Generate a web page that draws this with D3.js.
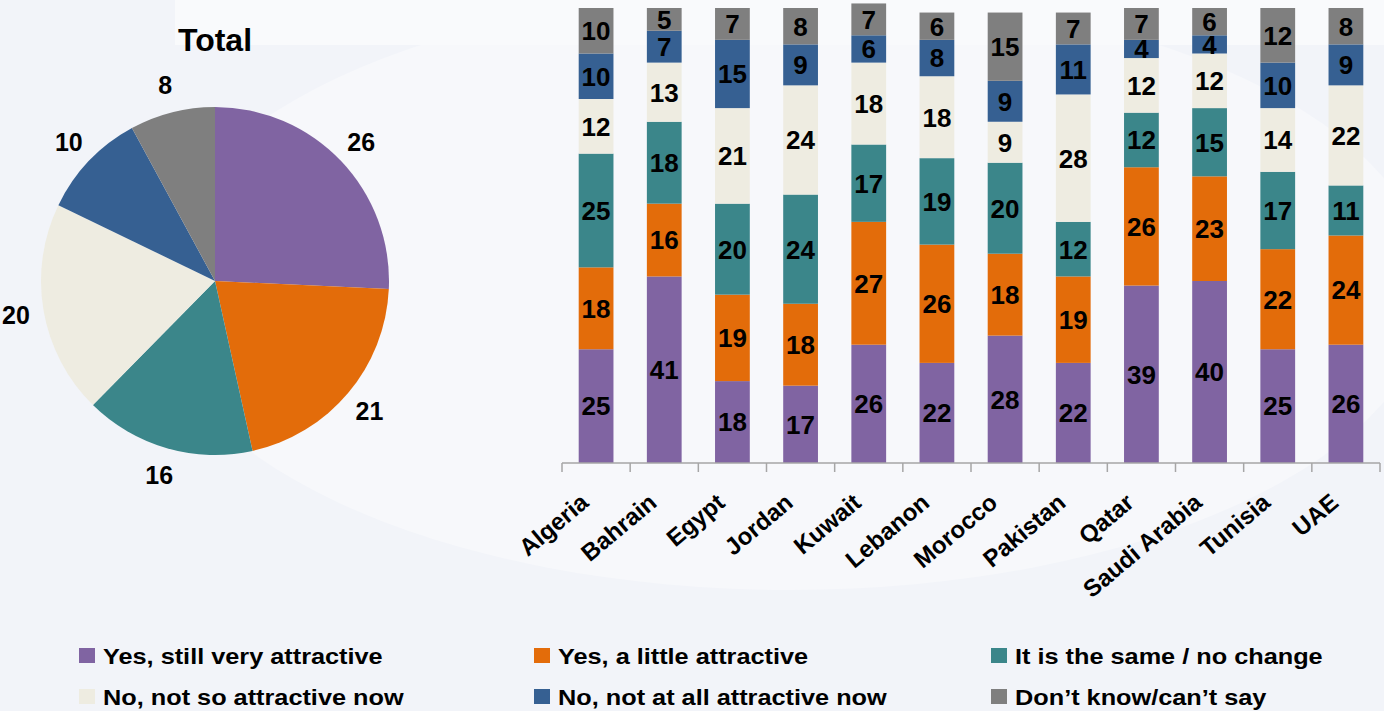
<!DOCTYPE html>
<html>
<head>
<meta charset="utf-8">
<script src="https://cdn.jsdelivr.net/npm/d3@7"></script>
<style>
  html, body { margin: 0; padding: 0; background: #f3f5f9; }
  svg { display: block; font-family: "Liberation Sans", Arial, sans-serif; font-weight: bold; }
</style>
</head>
<body>
<svg id="chart" width="1384" height="711"></svg>
<script>
// ---------- data ----------
const countries = ["Algeria","Bahrain","Egypt","Jordan","Kuwait","Lebanon","Morocco","Pakistan","Qatar","Saudi Arabia","Tunisia","UAE"];
const seriesNames = ["Yes, still very attractive","Yes, a little attractive","It is the same / no change","No, not so attractive now","No, not at all attractive now","Don\u2019t know/can\u2019t say"];
const veryAttractive   = [25,41,18,17,26,22,28,22,39,40,25,26];
const littleAttractive = [18,16,19,18,27,26,18,19,26,23,22,24];
const sameNoChange     = [25,18,20,24,17,19,20,12,12,15,17,11];
const notSoAttractive  = [12,13,21,24,18,18, 9,28,12,12,14,22];
const notAtAll         = [10, 7,15, 9, 6, 8, 9,11, 4, 4,10, 9];
const dontKnow         = [10, 5, 7, 8, 7, 6,15, 7, 7, 6,12, 8];
const totalValues      = [26,21,16,20,10,8];
const colors = ["#8064a2","#e36c0a","#3b868a","#eeece1","#366092","#7f7f7f"];

const seriesValues = [veryAttractive, littleAttractive, sameNoChange, notSoAttractive, notAtAll, dontKnow];

const svg = d3.select("#chart");

// ---------- background ----------
svg.append("rect").attr("width",1384).attr("height",711).attr("fill","#f2f4f9");
svg.append("ellipse").attr("cx",790).attr("cy",290).attr("rx",640).attr("ry",300).attr("fill","#f7f8fb");
svg.append("rect").attr("x",175).attr("y",0).attr("width",1209).attr("height",45).attr("fill","#f9fafc");

// ---------- pie ----------
const pieG = svg.append("g").attr("transform","translate(215,281)");
const pie = d3.pie().sort(null).value(d => d);
const arcs = pie(totalValues);
const arc = d3.arc().innerRadius(0).outerRadius(174);
const labelArc = d3.arc().innerRadius(202).outerRadius(202);
pieG.selectAll("path").data(arcs).join("path")
  .attr("d", arc).attr("fill", (d,i) => colors[i]);
pieG.selectAll("text").data(arcs).join("text")
  .attr("transform", d => `translate(${labelArc.centroid(d)})`)
  .attr("text-anchor","middle").attr("dy","0.36em")
  .attr("font-size",25).attr("fill","#000")
  .text(d => d.data);
svg.append("text").attr("x",215).attr("y",51).attr("text-anchor","middle")
  .attr("font-size",32).attr("fill","#000").text("Total");

// ---------- stacked bars ----------
const x = d3.scaleBand().domain(countries).range([562,1380]).paddingInner(0.49).paddingOuter(0.245);
const y = d3.scaleLinear().domain([0,100]).range([463,8]);

const rows = countries.map((c,i) => {
  const o = {country:c};
  seriesNames.forEach((s,k) => o[s] = seriesValues[k][i]);
  return o;
});
const stack = d3.stack().keys(seriesNames)(rows);

const barsG = svg.append("g");
stack.forEach((layer,k) => {
  const g = barsG.append("g");
  g.selectAll("rect").data(layer).join("rect")
    .attr("x", d => x(d.data.country))
    .attr("width", x.bandwidth())
    .attr("y", d => y(d[1]))
    .attr("height", d => y(d[0]) - y(d[1]))
    .attr("fill", colors[k]);
});
stack.forEach((layer,k) => {
  barsG.append("g").selectAll("text").data(layer).join("text")
    .attr("x", d => x(d.data.country) + x.bandwidth()/2)
    .attr("y", d => (y(d[0]) + y(d[1]))/2)
    .attr("dy","0.36em")
    .attr("text-anchor","middle")
    .attr("font-size",26).attr("fill","#000")
    .text(d => d[1]-d[0]);
});

// axis
const axisG = svg.append("g").attr("stroke","#a6a6a6").attr("stroke-width",1.5);
const step = x.step();
const x0 = x.range()[0];
axisG.append("line").attr("x1",x0).attr("x2",x.range()[1]).attr("y1",y(0)).attr("y2",y(0));
axisG.selectAll("line.tick").data(d3.range(countries.length+1)).join("line")
  .attr("class","tick")
  .attr("x1", i => x0 + i*step).attr("x2", i => x0 + i*step)
  .attr("y1", y(0)).attr("y2", y(0)+9);

svg.append("g").selectAll("text").data(countries).join("text")
  .attr("transform", d => `translate(${x(d)+x.bandwidth()/2-6},${y(0)+42}) rotate(-40)`)
  .attr("text-anchor","end")
  .attr("font-size",24).attr("fill","#000")
  .text(d => d);

// ---------- legend ----------
const legendCols = [79,534,991];
const legendRows = [648,689];
const legG = svg.append("g");
seriesNames.forEach((s,k) => {
  const lx = legendCols[k%3], ly = legendRows[Math.floor(k/3)];
  legG.append("rect").attr("x",lx).attr("y",ly).attr("width",16).attr("height",15).attr("fill",colors[k]);
  legG.append("text").attr("transform",`translate(${lx+24},${ly+16}) scale(1.15,1)`)
    .attr("font-size",22).attr("fill","#000").text(s);
});
</script>
</body>
</html>
